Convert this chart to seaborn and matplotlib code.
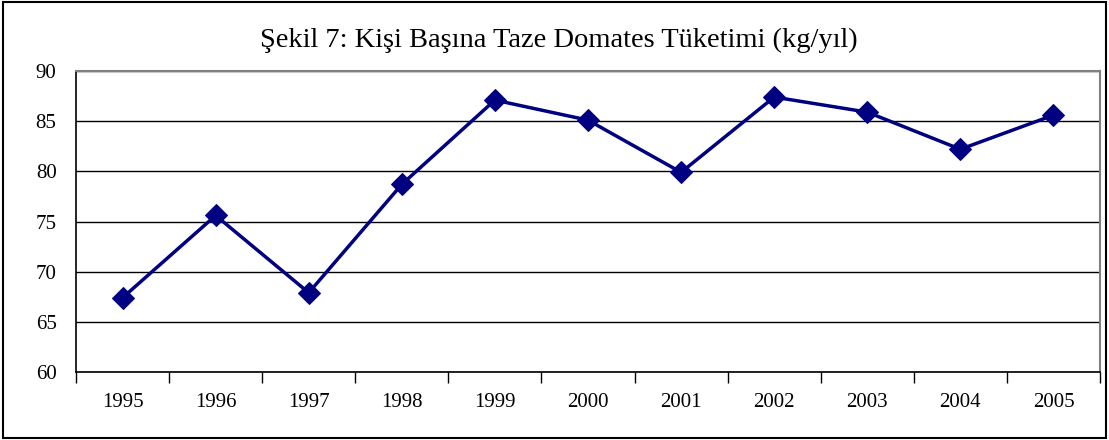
import matplotlib
matplotlib.use("Agg")
import matplotlib.pyplot as plt
import seaborn as sns
import pandas as pd
from matplotlib.patches import Rectangle
from matplotlib.ticker import FixedLocator

sns.set_theme(style="white")
plt.rcParams['font.family'] = ['Liberation Serif', 'DejaVu Serif']

years = ['1995', '1996', '1997', '1998', '1999', '2000',
         '2001', '2002', '2003', '2004', '2005']
consumption = [67.4, 75.6, 67.9, 78.7, 87.1, 85.1, 79.9, 87.4, 85.9, 82.2, 85.6]
title = "Şekil 7: Kişi Başına Taze Domates Tüketimi (kg/yıl)"

df = pd.DataFrame({'year': years, 'kg': consumption})

fig = plt.figure(figsize=(11.09, 4.4), dpi=100)
ax = fig.add_axes([76 / 1109, 68 / 440, 1024 / 1109, 301 / 440])

sns.lineplot(data=df, x='year', y='kg', ax=ax, color='#000080',
             linewidth=2.5, marker='D', markersize=11,
             markeredgecolor='#000080', markerfacecolor='#000080')

# y axis
ax.set_ylim(60, 90)
ax.set_yticks(range(60, 91, 5))
ax.yaxis.grid(True, color='black', linewidth=1)
ax.set_axisbelow(True)
ax.tick_params(axis='y', which='major', direction='out', length=8,
               width=1, color='black', pad=6, labelsize=15,
               labelcolor='black')

# x axis: ticks between categories, labels centered
ax.set_xlim(-0.5, len(years) - 0.5)
ax.xaxis.set_major_locator(FixedLocator([i - 0.5 for i in range(len(years) + 1)]))
ax.xaxis.set_minor_locator(FixedLocator(range(len(years))))
ax.set_xticklabels([])
ax.set_xticklabels(years, minor=True)
ax.tick_params(axis='x', which='major', direction='out', length=8,
               width=1, color='black', bottom=True)
ax.tick_params(axis='x', which='minor', length=0, pad=15, labelsize=15,
               labelcolor='black')
ax.set_xlabel('')
ax.set_ylabel('')

for side in ['left', 'bottom']:
    ax.spines[side].set_color('black')
    ax.spines[side].set_linewidth(1.2)
for side in ['top', 'right']:
    ax.spines[side].set_color('#808080')
    ax.spines[side].set_linewidth(1.5)

fig.text(0.504, 1 - 40 / 440, title, ha='center', va='center',
         fontsize=20.5, color='black')

fig.patches.append(Rectangle((0.003, 0.004), 0.994, 0.992, transform=fig.transFigure,
                             fill=False, edgecolor='black', linewidth=1.5))

fig.savefig('out.png', dpi=100)
